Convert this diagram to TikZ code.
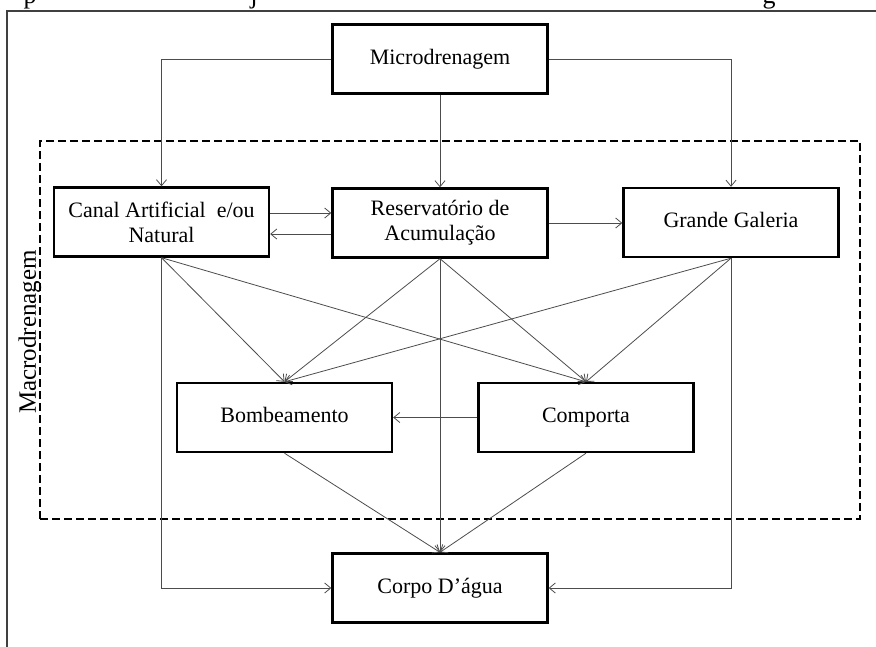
\documentclass[tikz,border=0pt]{standalone}
\usepackage{fontspec}
\setmainfont{Liberation Serif}
\usetikzlibrary{arrows.meta}
\begin{document}
\begin{tikzpicture}[x=1pt,y=-1pt,
  box/.style={draw=black, line width=2.4pt, fill=white, minimum width=215pt, minimum height=69pt, inner sep=0pt, align=center, font=\fontsize{22}{25}\selectfont},
  onebox/.style={box, text height=15pt, text depth=5pt},
  conn/.style={draw=black!70, line width=0.8pt, -{Straight Barb[length=6pt,width=10pt]}},
  frame/.style={draw=black!75, line width=1.6pt},
  macro/.style={draw=black, line width=2.3pt, dash pattern=on 8pt off 4pt, minimum width=820pt, minimum height=378pt, inner sep=0pt},
  cut/.style={anchor=base, inner sep=0pt, font=\fontsize{26}{30}\selectfont},
]
\useasboundingbox (0,0) rectangle (876,646);

% cut-off caption line
\node[cut] (cp) at (30,3) {p};
\node[cut] (cj) at (254,3) {j};
\node[cut] (cg) at (769,3) {g};

% outer frame
\coordinate (fbl) at (7,650);
\coordinate (ftl) at (7,11);
\coordinate (ftr) at (880,11);
\draw[frame] (fbl) -- (ftl) -- (ftr);

% macrodrenagem region
\node[macro] (macro) at (450,330) {};
\node[rotate=90, inner sep=0pt, font=\fontsize{25}{28}\selectfont] (macrolbl) at (30,332) {Macrodrenagem};

% boxes
\node[onebox] (micro)  at (440,59)    {Microdrenagem};
\node[box]    (canal)  at (161.5,222) {Canal Artificial~~e/ou\\Natural};
\node[box]    (reserv) at (440,223)   {Reservatório de\\Acumulação};
\node[onebox] (grande) at (731,222.5) {Grande Galeria};
\node[onebox] (bomb)   at (284.5,417.5) {Bombeamento};
\node[onebox] (comp)   at (586,417.5) {Comporta};
\node[onebox] (corpo)  at (440,588)   {Corpo D’água};

% connectors
\draw[conn] (micro.west) -| (canal.north);
\draw[conn] (micro.east) -| (grande.north);
\draw[conn] (micro.south) -- (reserv.north);

\draw[conn] ([yshift=9pt]canal.east) -- ([yshift=9pt]canal.east -| reserv.west);
\draw[conn] ([yshift=-12pt]canal.east -| reserv.west) -- ([yshift=-12pt]canal.east);
\draw[conn] (reserv.east) -- (reserv.east -| grande.west);

\draw[conn] (canal.south) -- (bomb.north);
\draw[conn] (canal.south) -- (comp.north);
\draw[conn] (canal.south) |- (corpo.west);

\draw[conn] (reserv.south) -- (bomb.north);
\draw[conn] (reserv.south) -- (comp.north);
\draw[conn] (reserv.south) -- (corpo.north);

\draw[conn] (grande.south) -- (bomb.north);
\draw[conn] (grande.south) -- (comp.north);
\draw[conn] (grande.south) |- (corpo.east);

\draw[conn] (comp.west) -- (bomb.east);
\draw[conn] (bomb.south) -- (corpo.north);
\draw[conn] (comp.south) -- (corpo.north);
\end{tikzpicture}
\end{document}
